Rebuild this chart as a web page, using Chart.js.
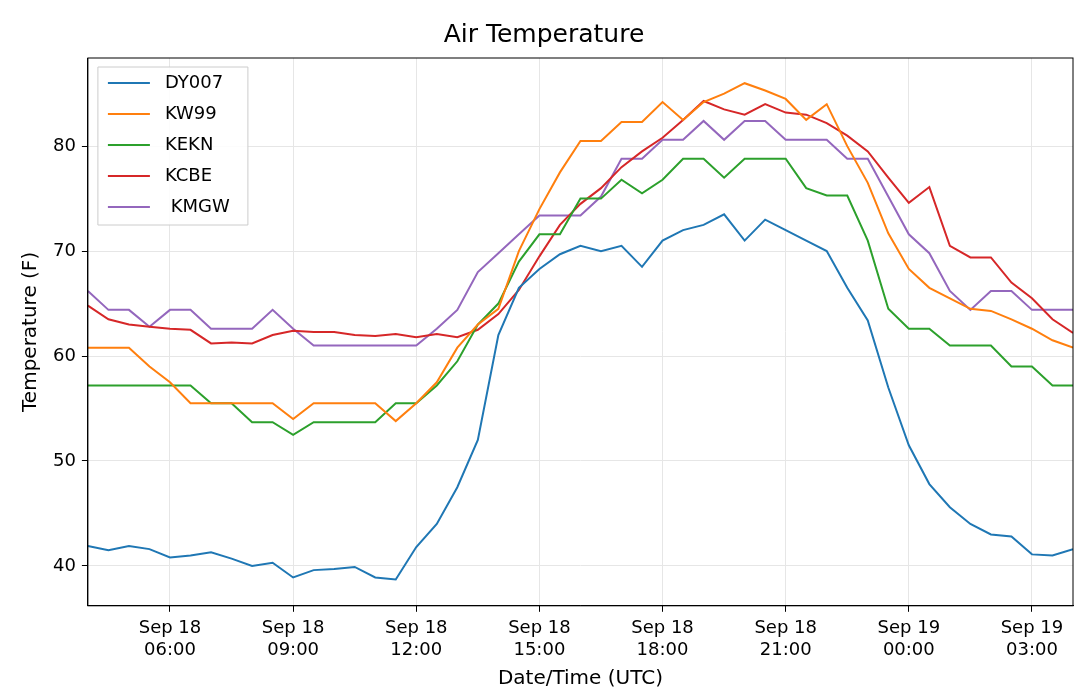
<!DOCTYPE html>
<html><head><meta charset="utf-8">
<script src="https://cdn.jsdelivr.net/npm/chart.js@4"></script>
<style>body{margin:0;background:#fff}</style>
</head><body><canvas id="c" width="1080" height="700"></canvas>
<script>
const hours=[4,4.5,5,5.5,6,6.5,7,7.5,8,8.5,9,9.5,10,10.5,11,11.5,12,12.5,13,13.5,14,14.5,15,15.5,16,16.5,17,17.5,18,18.5,19,19.5,20,20.5,21,21.5,22,22.5,23,23.5,24,24.5,25,25.5,26,26.5,27,27.5,28];
const DY007=[41.9,41.5,41.9,41.6,40.8,41.0,41.3,40.7,40.0,40.3,38.9,39.6,39.7,39.9,38.9,38.7,41.8,44,47.5,52,62,66.5,68.3,69.7,70.5,70,70.5,68.5,71,72,72.5,73.5,71,73,72,71,70,66.5,63.4,57,51.5,47.8,45.6,44,43,42.8,41.1,41,41.6];
const KW99=[60.8,60.8,60.8,59,57.5,55.5,55.5,55.5,55.5,55.5,54,55.5,55.5,55.5,55.5,53.8,55.5,57.5,60.8,63,64.5,70,74,77.5,80.5,80.5,82.3,82.3,84.2,82.5,84.2,85,86,85.3,84.5,82.5,84,80,76.5,71.7,68.3,66.5,65.5,64.5,64.3,63.5,62.6,61.5,60.8];
const KEKN=[57.2,57.2,57.2,57.2,57.2,57.2,55.5,55.5,53.7,53.7,52.5,53.7,53.7,53.7,53.7,55.5,55.5,57.2,59.5,63,65,69,71.6,71.6,75,75,76.8,75.5,76.8,78.8,78.8,77,78.8,78.8,78.8,76,75.3,75.3,71,64.5,62.6,62.6,61,61,61,59,59,57.2,57.2];
const KCBE=[64.8,63.5,63,62.8,62.6,62.5,61.2,61.3,61.2,62,62.4,62.3,62.3,62,61.9,62.1,61.8,62.1,61.8,62.5,64,66.3,69.5,72.5,74.5,76,78,79.5,80.8,82.5,84.3,83.5,83,84,83.2,83,82.2,81,79.5,77,74.6,76.1,70.5,69.4,69.4,67,65.5,63.5,62.2];
const KMGW=[66.2,64.4,64.4,62.8,64.4,64.4,62.6,62.6,62.6,64.4,62.6,61,61,61,61,61,61,62.6,64.4,68,69.8,71.6,73.4,73.4,73.4,75.2,78.8,78.8,80.6,80.6,82.4,80.6,82.4,82.4,80.6,80.6,80.6,78.8,78.8,75.2,71.6,69.8,66.2,64.4,66.2,66.2,64.4,64.4,64.4];
const names=['DY007','KW99','KEKN','KCBE',' KMGW'];
const colors=['#1f77b4','#ff7f0e','#2ca02c','#d62728','#9467bd'];
const series=[DY007,KW99,KEKN,KCBE,KMGW];
const tickHours=[6,9,12,15,18,21,24,27];
const F='"DejaVu Sans", sans-serif';
const frame={id:'frame',afterDraw(ch){const a=ch.chartArea,c=ch.ctx;c.save();c.strokeStyle='#000';c.lineWidth=1;c.strokeRect(a.left,a.top,a.right-a.left,a.bottom-a.top);
const x0=a.left+10,y0=a.top+9;c.fillStyle='rgba(255,255,255,0.85)';c.strokeStyle='#ccc';c.beginPath();c.rect(x0,y0,150,158);c.fill();c.stroke();
c.font='18px '+F;c.textBaseline='middle';
names.forEach((n,i)=>{const y=y0+16+i*31;c.strokeStyle=colors[i];c.lineWidth=2;c.beginPath();c.moveTo(x0+10,y);c.lineTo(x0+52,y);c.stroke();c.fillStyle='#000';c.fillText(n,x0+67,y);});
c.restore();}};
new Chart(document.getElementById('c'),{type:'line',
data:{datasets:series.map((s,i)=>({label:names[i],data:hours.map((h,j)=>({x:h,y:s[j]})),borderColor:colors[i],borderWidth:2,pointRadius:0,tension:0,fill:false}))},
options:{responsive:false,animation:false,
layout:{padding:{left:15,right:7,top:0,bottom:5}},
plugins:{legend:{display:false},tooltip:{enabled:false},
title:{display:true,text:'Air Temperature',color:'#000',font:{family:F,size:25,weight:'normal'},padding:{top:20,bottom:8}}},
scales:{x:{type:'linear',min:4,max:28,
afterBuildTicks(ax){ax.ticks=tickHours.map(v=>({value:v}));},
ticks:{color:'#000',font:{family:F,size:18},maxRotation:0,padding:6,callback:v=>[(v>=24?'Sep 19':'Sep 18'),String(v%24).padStart(2,'0')+':00']},
grid:{color:'#e6e6e6',tickColor:'#000',tickLength:6},border:{color:'#000'},
title:{display:true,text:'Date/Time (UTC)',color:'#000',font:{family:F,size:20},padding:{top:0}}},
y:{min:36.2,max:88.4,afterBuildTicks(ax){ax.ticks=[40,50,60,70,80].map(v=>({value:v}));},
ticks:{color:'#000',font:{family:F,size:18},padding:6},
grid:{color:'#e6e6e6',tickColor:'#000',tickLength:6},border:{color:'#000'},
title:{display:true,text:'Temperature (F)',color:'#000',font:{family:F,size:20},padding:{bottom:4}}}}},
plugins:[frame]});
</script>
</body></html>
